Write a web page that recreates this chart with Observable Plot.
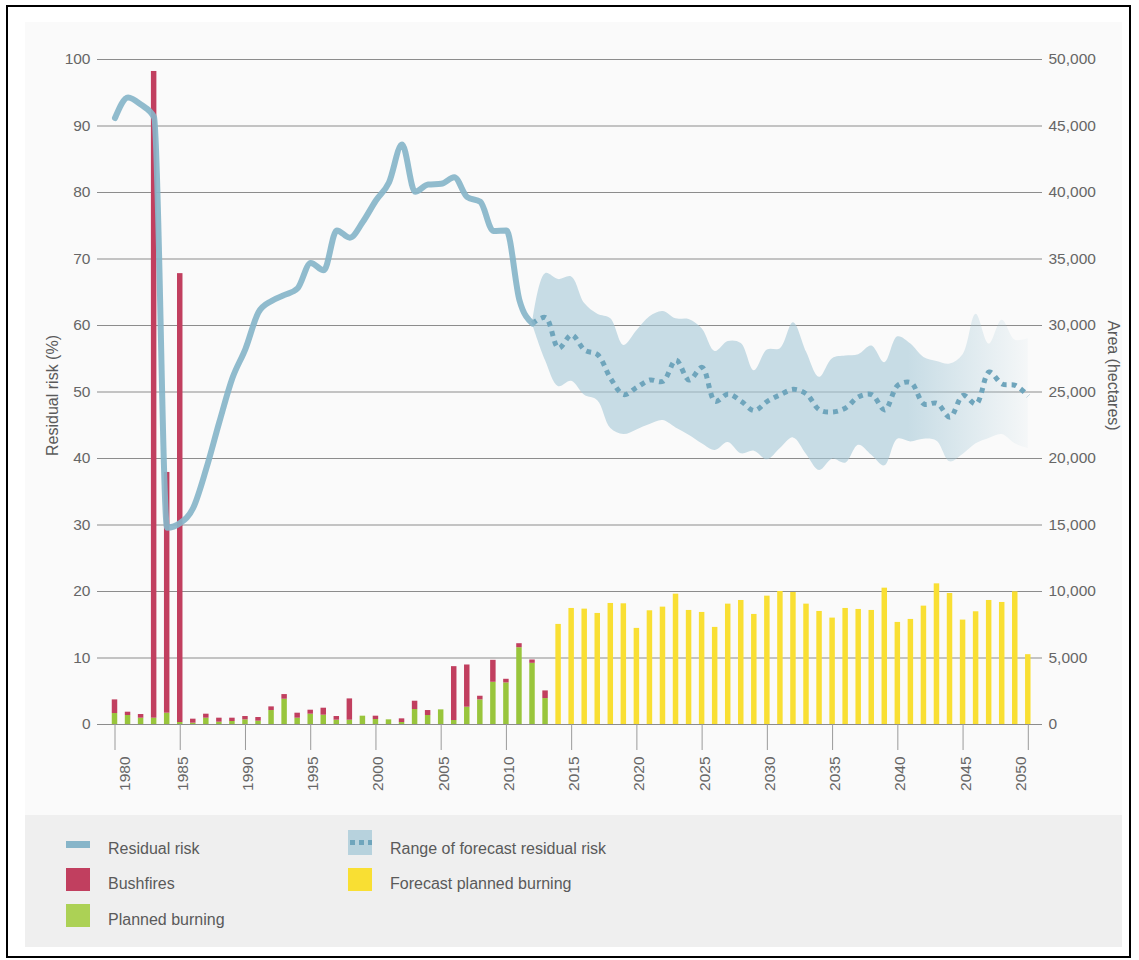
<!DOCTYPE html>
<html>
<head>
<meta charset="utf-8">
<script src="https://cdn.jsdelivr.net/npm/d3@7"></script>
<script src="https://cdn.jsdelivr.net/npm/@observablehq/plot@0.6"></script>
<style>
  body { margin: 0; background: #fff; font-family: "Liberation Sans", Arial, sans-serif; }
  #frame { position: absolute; left: 6px; top: 5px; width: 1121px; height: 949px; border: 2px solid #000; background: #fff; }
  #chart { position: absolute; left: 25px; top: 22px; width: 1097px; height: 793px; background: #fafafa; }
  #legend { position: absolute; left: 25px; top: 815px; width: 1097px; height: 132px; background: #efefef; }
  .sw { position: absolute; width: 24px; }
  .lt { position: absolute; font-size: 16px; color: #5a5a5a; line-height: 18px; white-space: nowrap; }
</style>
</head>
<body>
<div id="frame"></div>
<div id="chart"></div>
<div id="legend"></div>
<script>
// ---------- data ----------
const histYears = [1980,1981,1982,1983,1984,1985,1986,1987,1988,1989,1990,1991,1992,1993,1994,1995,1996,1997,1998,1999,2000,2001,2002,2003,2004,2005,2006,2007,2008,2009,2010,2011,2012,2013];
// hectares
const plannedBurning = [825,675,475,475,850,150,100,475,175,225,350,250,1050,1900,475,775,700,325,325,625,375,350,150,1125,675,1100,300,1300,1850,3175,3125,5775,4600,1950];
const bushfires = [1025,250,275,48625,18100,33750,300,300,300,250,250,275,275,350,375,300,525,275,1600,0,250,0,275,625,375,0,4050,3175,275,1650,275,300,250,575];

const forecastYears = [2014,2015,2016,2017,2018,2019,2020,2021,2022,2023,2024,2025,2026,2027,2028,2029,2030,2031,2032,2033,2034,2035,2036,2037,2038,2039,2040,2041,2042,2043,2044,2045,2046,2047,2048,2049,2050];
const forecastBurning = [7525,8725,8675,8350,9100,9075,7225,8550,8825,9800,8575,8425,7300,9050,9325,8275,9650,10000,9925,9050,8500,8000,8725,8650,8575,10250,7675,7900,8900,10575,9850,7850,8475,9325,9175,9975,5250];

const riskYears = [1980,1981,1982,1983,1984,1985,1986,1987,1988,1989,1990,1991,1992,1993,1994,1995,1996,1997,1998,1999,2000,2001,2002,2003,2004,2005,2006,2007,2008,2009,2010,2011,2012];
const residualRisk = [91.2,94.3,93.2,91.3,29.6,30.3,32.6,38.5,45.5,52.1,56.5,62.0,63.7,64.6,65.6,69.4,68.3,74.3,73.2,75.6,78.8,81.5,87.2,80.1,81.2,81.3,82.3,79.3,78.6,74.2,74.3,63.8,60.3];

const fcRiskYears = [2012,2013,2014,2015,2016,2017,2018,2019,2020,2021,2022,2023,2024,2025,2026,2027,2028,2029,2030,2031,2032,2033,2034,2035,2036,2037,2038,2039,2040,2041,2042,2043,2044,2045,2046,2047,2048,2049,2050];
const fcRiskMid = [60.3,61.2,56.6,58.6,56.3,55.6,52.0,49.6,50.7,51.8,51.6,54.8,51.8,53.7,48.6,49.7,48.6,47.2,48.6,49.6,50.4,49.7,47.3,47.0,47.6,49.3,49.6,47.3,51.0,51.4,48.2,48.3,46.2,49.5,48.2,53.0,51.2,51.0,49.4];
const fcRiskHigh = [60.3,67.8,66.9,67.3,63.3,61.7,61.0,57.0,59.2,61.3,62.1,61.0,60.9,59.5,56.1,57.6,57.3,53.2,56.3,56.5,60.4,56.0,52.2,55.0,55.4,55.6,56.9,54.4,58.3,57.2,55.2,54.6,54.2,55.6,61.7,57.2,60.8,57.8,58.0];
const fcRiskLow = [60.2,54.7,50.8,51.6,49.5,48.7,44.5,43.6,44.3,45.1,45.7,44.6,43.5,42.2,41.2,42.4,40.7,41.1,39.8,41.5,43.1,40.6,38.2,39.9,39.3,42.0,40.5,38.9,42.9,42.5,42.9,42.6,39.5,40.6,42.2,43.0,43.6,42.2,41.5];

const xTicks = [1980,1985,1990,1995,2000,2005,2010,2015,2020,2025,2030,2035,2040,2045,2050];
const riskTicks = [0,10,20,30,40,50,60,70,80,90,100];
const areaTicks = [0,5000,10000,15000,20000,25000,30000,35000,40000,45000,50000];
const areaMax = 50000;
const riskMax = 100;

// ---------- tables ----------
const toRisk = ha => ha * riskMax / areaMax;
const hist = histYears.map((year, i) => ({year, pb: plannedBurning[i], bf: bushfires[i]}));
const fc = forecastYears.map((year, i) => ({year, v: forecastBurning[i]}));
const risk = riskYears.map((year, i) => ({year, v: residualRisk[i]}));
const fcRisk = fcRiskYears.map((year, i) => ({year, mid: fcRiskMid[i], hi: fcRiskHigh[i], lo: fcRiskLow[i]}));

const C = {
  line: "#87b5c9", red: "#c13f5f", green: "#99c53c", yellow: "#f9df33",
  band: "#a5c8d7", dots: "#6fa5bc", grid: "#8c8c8c", text: "#666", tick: "#9a9a9a"
};
const half = 0.21;
const fmt = d3.format(",");
const firstTick = xTicks.slice(0, 1), midTicks = xTicks.slice(1, -1), lastTick = xTicks.slice(-1);
const xLabel = (ticks, dx) => Plot.text(ticks, {x: d => d, frameAnchor: "bottom", text: d => String(d), rotate: -90, textAnchor: "end", lineAnchor: "middle", dy: 32, dx, fill: C.text});

const plot = Plot.plot({
  width: 1097, height: 793,
  marginLeft: 72, marginRight: 80, marginTop: 37, marginBottom: 91,
  style: {background: "transparent", fontFamily: "'Liberation Sans', Arial, sans-serif", fontSize: "15.5px", color: C.text, overflow: "visible"},
  x: {type: "linear", domain: [1980, 2050], range: [89.5, 1002.8], axis: null},
  y: {domain: [0, riskMax], axis: null},
  marks: [
    Plot.gridY(riskTicks, {stroke: C.grid, strokeOpacity: 1, strokeWidth: 1}),
    // x ticks
    Plot.axisX({ticks: xTicks, tickSize: 26, stroke: C.tick, fill: "none", label: null}),
    xLabel(firstTick, 10),
    xLabel(midTicks, 2.5),
    xLabel(lastTick, -7),
    // left / right axes
    Plot.axisY(riskTicks, {anchor: "left", tickSize: 0, tickPadding: 7, label: null, fill: C.text}),
    Plot.axisY(riskTicks, {anchor: "right", tickSize: 0, tickPadding: 6, label: null, fill: C.text, tickFormat: d => fmt(areaTicks[riskTicks.indexOf(d)])}),
    Plot.text(["Residual risk (%)"], {frameAnchor: "left", rotate: -90, textAnchor: "middle", dx: -45, dy: 3.5, fill: "#5a5a5a", fontSize: 16}),
    Plot.text(["Area (hectares)"], {frameAnchor: "right", rotate: 90, textAnchor: "middle", dx: 71, dy: -16.5, fill: "#5a5a5a", fontSize: 16}),
    // bars
    Plot.rectY(hist, {x1: d => d.year - half, x2: d => d.year + half, y1: 0, y2: d => toRisk(d.pb), fill: C.green}),
    Plot.rectY(hist, {x1: d => d.year - half, x2: d => d.year + half, y1: d => toRisk(d.pb), y2: d => toRisk(d.pb + d.bf), fill: C.red}),
    Plot.rectY(fc, {x1: d => d.year - half, x2: d => d.year + half, y1: 0, y2: d => toRisk(d.v), fill: C.yellow}),
    // forecast range
    Plot.areaY(fcRisk, {x: "year", y1: "lo", y2: "hi", curve: "catmull-rom", fill: "url(#bandFade)"}),
    Plot.line(fcRisk, {x: "year", y: "mid", curve: "catmull-rom", stroke: C.dots, strokeWidth: 5, strokeDasharray: "5,5", strokeLinecap: "butt", strokeLinejoin: "miter"}),
    // residual risk
    Plot.line(risk, {x: "year", y: "v", curve: "monotone-x", stroke: C.line, strokeWidth: 6, strokeOpacity: 0.92, strokeLinecap: "round", strokeLinejoin: "round"})
  ]
});

const xs = plot.scale("x");
const defs = d3.select(plot).insert("defs", ":first-child");
const grad = defs.append("linearGradient").attr("id", "bandFade")
  .attr("gradientUnits", "userSpaceOnUse")
  .attr("x1", xs.apply(2040.8)).attr("x2", xs.apply(2050.2)).attr("y1", 0).attr("y2", 0);
grad.append("stop").attr("offset", 0).attr("stop-color", C.band).attr("stop-opacity", 0.6);
grad.append("stop").attr("offset", 1).attr("stop-color", C.band).attr("stop-opacity", 0.05);

document.getElementById("chart").appendChild(plot);

// ---------- legend ----------
const legendItems = [
  {label: "Residual risk", kind: "line", color: C.line, x: 41, y: 27},
  {label: "Bushfires", kind: "box", color: C.red, x: 41, y: 62},
  {label: "Planned burning", kind: "box", color: "#acd155", x: 41, y: 98},
  {label: "Range of forecast residual risk", kind: "range", color: "#b7d2dd", x: 323, y: 27},
  {label: "Forecast planned burning", kind: "box", color: C.yellow, x: 323, y: 62}
];
const legend = document.getElementById("legend");
for (const it of legendItems) {
  const sw = document.createElement("div");
  sw.className = "sw";
  sw.style.left = it.x + "px";
  sw.style.background = it.color;
  if (it.kind === "line") { sw.style.top = (it.y - 1) + "px"; sw.style.height = "7px"; }
  else if (it.kind === "box") { sw.style.top = (it.y - 9) + "px"; sw.style.height = "23px"; }
  else {
    sw.style.top = (it.y - 12) + "px"; sw.style.height = "25px";
    sw.style.backgroundImage = `repeating-linear-gradient(to right, ${C.dots} 0 5px, transparent 5px 9px)`;
    sw.style.backgroundSize = "22px 5px";
    sw.style.backgroundPosition = "2px 10px";
    sw.style.backgroundRepeat = "no-repeat";
  }
  legend.appendChild(sw);
  const t = document.createElement("div");
  t.className = "lt";
  t.textContent = it.label;
  t.style.left = (it.x + 42) + "px";
  t.style.top = (it.y - 2) + "px";
  legend.appendChild(t);
}
</script>
</body>
</html>
